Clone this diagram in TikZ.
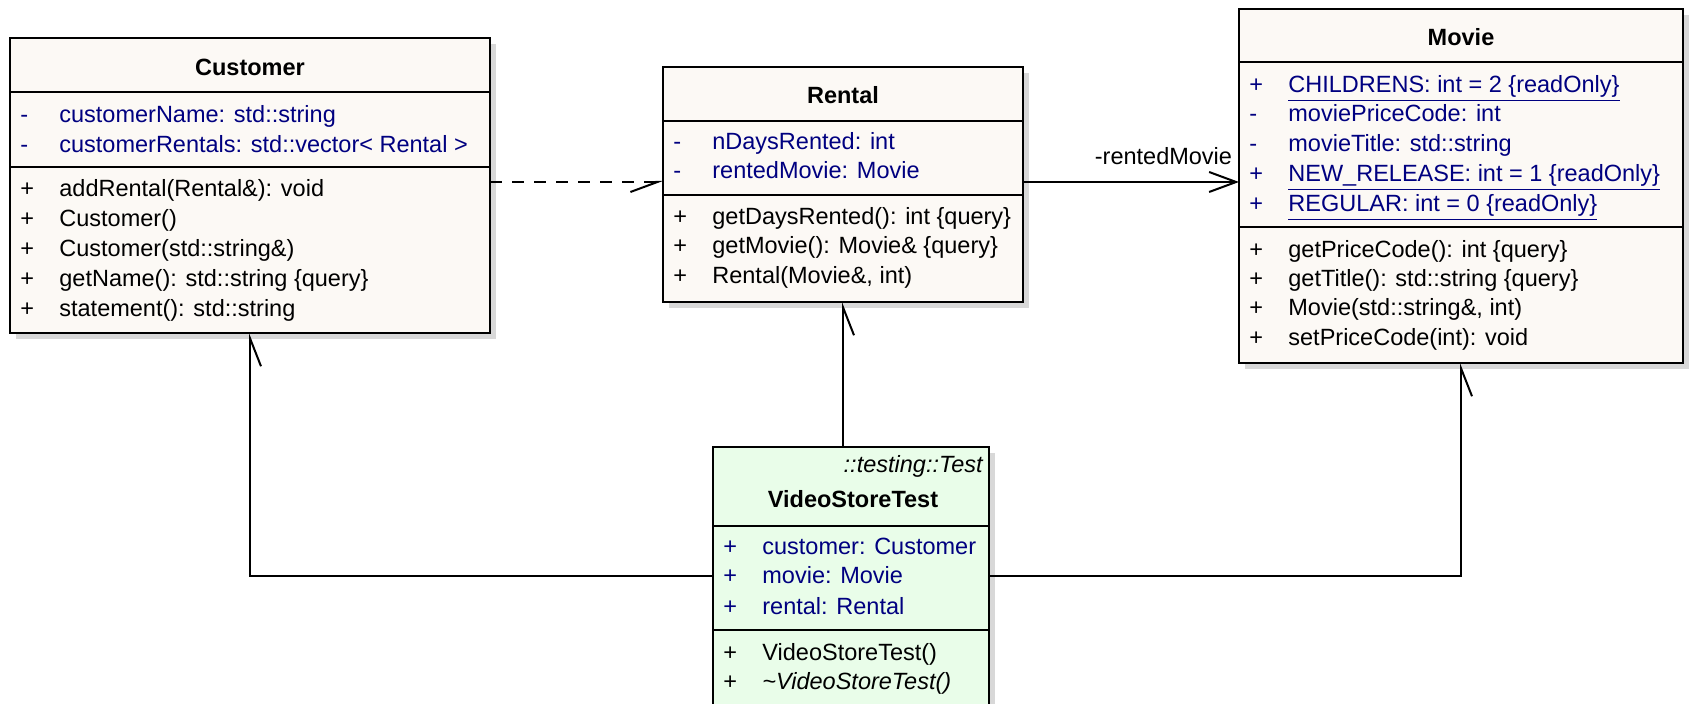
\documentclass[tikz,border=0pt]{standalone}
\usepackage{fontspec}
\setmainfont{Liberation Sans}
\usetikzlibrary{arrows.meta,shadows}
\definecolor{classfill}{RGB}{252,249,245}
\definecolor{testfill}{RGB}{233,253,233}
\definecolor{attrblue}{RGB}{0,0,128}
\definecolor{shadowgray}{RGB}{216,216,216}
% one compartment row: visibility marker, then the member text
\newcommand\urow[6][]{\node[row,#1] (#2) at (#3,#4) {\makebox[19.5pt][l]{#5}#6};}
\begin{document}
\begin{tikzpicture}[x=0.5pt,y=-0.5pt,
  font=\fontsize{11.75}{14}\selectfont,
  classbox/.style={draw, line width=1pt, fill=classfill, anchor=north west,
    inner sep=0pt, outer sep=0pt,
    general shadow={fill=shadowgray, shadow xshift=3pt, shadow yshift=-3pt}},
  testbox/.style={classbox, fill=testfill},
  sepline/.style={line width=1pt},
  row/.style={anchor=base west, inner sep=0pt},
  attr/.style={text=attrblue},
  title/.style={anchor=base, inner sep=0pt, font=\fontsize{11.75}{14}\selectfont\bfseries},
  assoc/.style={line width=1pt, -{Straight Barb[harpoon, swap, length=14pt, width=11pt]}},
  dep/.style={line width=1pt, dash pattern=on 6pt off 5pt,
    -{Straight Barb[harpoon, swap, length=13.5pt, width=10pt]}},
  nav/.style={line width=1pt, -{Straight Barb[length=13.5pt, width=10pt]}}]
\useasboundingbox (0,0) rectangle (1690,704);

% class boxes
\node[classbox, minimum width=240pt, minimum height=147.5pt] (customer) at (10,38) {};
\node[classbox, minimum width=180pt, minimum height=117.5pt] (rental) at (663,67) {};
\node[classbox, minimum width=222pt, minimum height=177pt] (movie) at (1239,9) {};
\node[testbox, minimum width=138pt, minimum height=129pt] (vst) at (713,447) {};

% compartment separators
\draw[sepline] (customer.west |- 0,92) -- (customer.east |- 0,92);
\draw[sepline] (customer.west |- 0,167) -- (customer.east |- 0,167);
\draw[sepline] (rental.west |- 0,121) -- (rental.east |- 0,121);
\draw[sepline] (rental.west |- 0,195) -- (rental.east |- 0,195);
\draw[sepline] (movie.west |- 0,62) -- (movie.east |- 0,62);
\draw[sepline] (movie.west |- 0,227) -- (movie.east |- 0,227);
\draw[sepline] (vst.west |- 0,526) -- (vst.east |- 0,526);
\draw[sepline] (vst.west |- 0,630) -- (vst.east |- 0,630);

% Customer
\node[title] (customerTitle) at (250,76) {Customer};
\urow[attr]{c1}{20}{123}{-}{customerName: std::string}
\urow[attr]{c2}{20}{153}{-}{customerRentals: std::vector< Rental >}
\urow{c3}{20}{197}{+}{addRental(Rental\&): void}
\urow{c4}{20}{227}{+}{Customer()}
\urow{c5}{20}{257}{+}{Customer(std::string\&)}
\urow{c6}{20}{287}{+}{getName(): std::string \{query\}}
\urow{c7}{20}{317}{+}{statement(): std::string}

% Rental
\node[title] (rentalTitle) at (843,104) {Rental};
\urow[attr]{r1}{673}{150}{-}{nDaysRented: int}
\urow[attr]{r2}{673}{179}{-}{rentedMovie: Movie}
\urow{r3}{673}{225}{+}{getDaysRented(): int \{query\}}
\urow{r4}{673}{254}{+}{getMovie(): Movie\& \{query\}}
\urow{r5}{673}{284}{+}{Rental(Movie\&, int)}

% Movie
\node[title] (movieTitle) at (1461,46) {Movie};
\urow[attr]{m1}{1249}{93}{+}{\underline{CHILDRENS: int = 2 \{readOnly\}}}
\urow[attr]{m2}{1249}{122}{-}{moviePriceCode: int}
\urow[attr]{m3}{1249}{152}{-}{movieTitle: std::string}
\urow[attr]{m4}{1249}{182}{+}{\underline{NEW\_RELEASE: int = 1 \{readOnly\}}}
\urow[attr]{m5}{1249}{212}{+}{\underline{REGULAR: int = 0 \{readOnly\}}}
\urow{m6}{1249}{258}{+}{getPriceCode(): int \{query\}}
\urow{m7}{1249}{287}{+}{getTitle(): std::string \{query\}}
\urow{m8}{1249}{316}{+}{Movie(std::string\&, int)}
\urow{m9}{1249}{346}{+}{setPriceCode(int): void}

% VideoStoreTest
\node[anchor=base east, inner sep=0pt] (vstStereo) at (983,473) {\itshape ::testing::Test};
\node[title] (vstTitle) at (853,508) {VideoStoreTest};
\urow[attr]{v1}{723}{555}{+}{customer: Customer}
\urow[attr]{v2}{723}{584}{+}{movie: Movie}
\urow[attr]{v3}{723}{614}{+}{rental: Rental}
\urow{v4}{723}{660}{+}{VideoStoreTest()}
\urow{v5}{723}{689}{+}{\itshape\textasciitilde VideoStoreTest()}

% relationships
\draw[dep] (customer.east |- 0,182) -- (rental.west |- 0,182);
\draw[nav] (rental.east |- 0,182) -- (movie.west |- 0,182)
  node[pos=1, anchor=base east, inner sep=0pt, xshift=-3pt, yshift=8.5pt] (navLabel) {-rentedMovie};
\draw[assoc] (rental.south |- vst.north) -- (rental.south);
\draw[assoc] (vst.west) -| (customer.south);
\draw[assoc] (vst.east) -| (movie.south);
\end{tikzpicture}
\end{document}
